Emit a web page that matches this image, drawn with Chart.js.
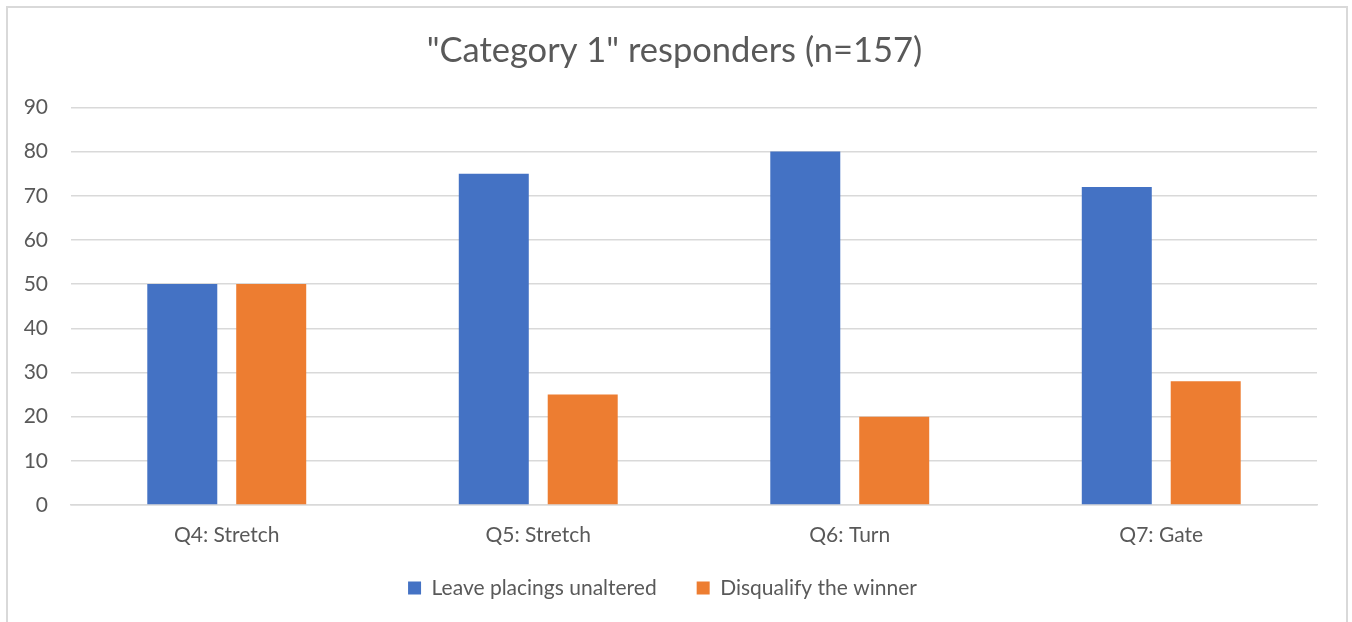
<!DOCTYPE html>
<html>
<head>
<meta charset="utf-8">
<script src="https://cdn.jsdelivr.net/npm/chart.js@4.4.0/dist/chart.umd.min.js"></script>
<style>
  html, body { margin: 0; padding: 0; background: #fff; overflow: hidden; }
  #frame { position: absolute; left: 6px; top: 6px; width: 1338px; height: 700px; border: 2px solid #d9d9d9; pointer-events: none; }
  #c { position: absolute; left: 0; top: 0; }
</style>
</head>
<body>
<canvas id="c" width="1352" height="622"></canvas>
<div id="frame"></div>
<script>
const categories = ["Q4: Stretch", "Q5: Stretch", "Q6: Turn", "Q7: Gate"];
const leaveUnaltered = [50, 75, 80, 72];
const disqualifyWinner = [50, 25, 20, 28];
const seriesNames = ["Leave placings unaltered", "Disqualify the winner"];
const chartTitle = '"Category 1" responders (n=157)';

const FONT = "Lato, 'Open Sans', sans-serif";
const TEXT = "#595959";
const GRID = "#d9d9d9";

// Fine positioning of title and legend after layout
const nudge = {
  id: "nudge",
  afterLayout(chart) {
    const t = chart.titleBlock;
    if (t) { t.left += 6; t.right += 6; }
    const l = chart.legend;
    if (l) { l.top -= 11.5; l.bottom -= 11.5; l.left -= 6; l.right -= 6; }
  }
};

new Chart(document.getElementById("c"), {
  type: "bar",
  data: {
    labels: categories,
    datasets: [
      { label: seriesNames[0], data: leaveUnaltered, backgroundColor: "#4472C4", borderWidth: 0 },
      { label: seriesNames[1], data: disqualifyWinner, backgroundColor: "#ED7D31", borderWidth: 0 }
    ]
  },
  plugins: [nudge],
  options: {
    responsive: false,
    animation: false,
    devicePixelRatio: 1,
    categoryPercentage: 0.571,
    barPercentage: 0.787,
    layout: { padding: { left: 20, right: 35, top: 0, bottom: 2 } },
    plugins: {
      title: {
        display: true,
        text: chartTitle,
        color: TEXT,
        font: { family: FONT, size: 34.5, weight: "normal" },
        padding: { top: 30, bottom: 36 }
      },
      legend: {
        position: "bottom",
        labels: {
          color: TEXT,
          font: { family: FONT, size: 21 },
          boxWidth: 13,
          boxHeight: 13,
          padding: 40
        }
      },
      tooltip: { enabled: false }
    },
    scales: {
      x: {
        grid: { display: false, drawTicks: false },
        border: { color: GRID, width: 1.5 },
        ticks: { color: TEXT, font: { family: FONT, size: 21 }, padding: 18 },
        afterFit: (s) => { s.height = 44; }
      },
      y: {
        min: 0,
        max: 90,
        grid: { color: GRID, lineWidth: 1.5, drawTicks: false },
        border: { display: false },
        ticks: { stepSize: 10, color: TEXT, font: { family: FONT, size: 21 }, padding: 23 },
        afterFit: (s) => { s.width = 51; }
      }
    }
  }
});
</script>
</body>
</html>
